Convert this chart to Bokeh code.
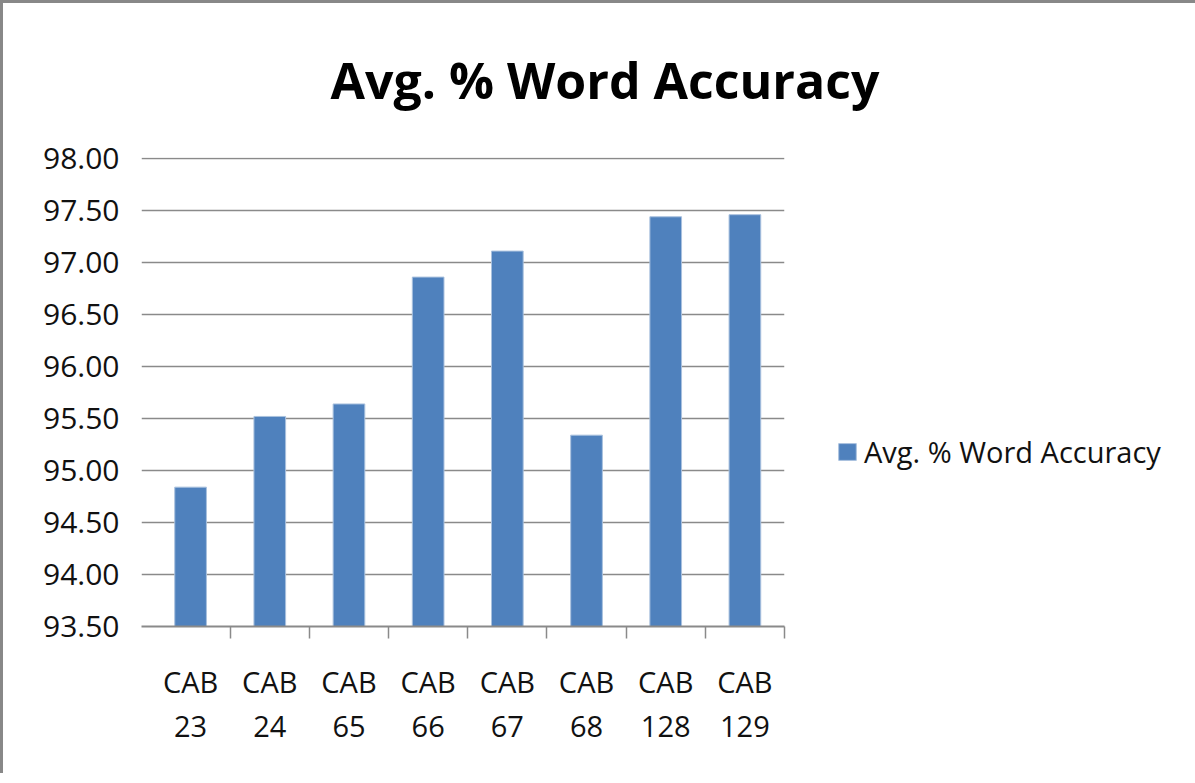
from bokeh.plotting import figure
from bokeh.models import (Range1d, FixedTicker, NumeralTickFormatter, Legend,
                          LegendItem, ColumnDataSource)
from bokeh.embed import file_html
from bokeh.resources import INLINE

# ---- data ----
categories = ["CAB\n23", "CAB\n24", "CAB\n65", "CAB\n66", "CAB\n67", "CAB\n68", "CAB\n128", "CAB\n129"]
accuracy = [94.84, 95.52, 95.64, 96.86, 97.11, 95.34, 97.44, 97.46]
y_ticks = [93.5, 94.0, 94.5, 95.0, 95.5, 96.0, 96.5, 97.0, 97.5, 98.0]
series_name = "Avg. % Word Accuracy"
title_text = "Avg. % Word Accuracy"

FONT = "Open Sans"
TXT = "#111111"
GRID = "#8a8a8a"
BAR = "#4F81BD"

xpos = [i + 0.5 for i in range(len(categories))]
bounds = [i + 1 for i in range(len(categories))]
src = ColumnDataSource(dict(x=xpos, top=accuracy))

p = figure(frame_width=643, frame_height=469, output_backend="svg", toolbar_location=None,
           x_range=Range1d(-0.12, len(categories)), y_range=Range1d(y_ticks[0], y_ticks[-1] + 0.01),
           min_border_left=138, min_border_right=400, min_border_top=154, min_border_bottom=147)
p.outline_line_color = None
p.styles = {"border-left": "3px solid #888888", "border-top": "3px solid #888888"}

r = p.vbar(x="x", top="top", bottom=y_ticks[0], width=0.4, source=src,
           fill_color=BAR, line_color="#a9c1de", line_width=1)

# title
p.title.text = title_text
p.title.align = "left"
p.title.offset = 189
p.title.standoff = 84
p.title.vertical_align = "top"
p.title.text_font = FONT
p.title.text_font_style = "bold"
p.title.text_font_size = "50px"
p.title.text_color = "#000000"

# x axis
xa = p.xaxis[0]
xa.ticker = FixedTicker(ticks=xpos, minor_ticks=bounds)
xa.major_label_overrides = {xp: c for xp, c in zip(xpos, categories)}
xa.major_tick_out = 0
xa.major_tick_in = 0
xa.minor_tick_out = 12
xa.minor_tick_in = 0
xa.minor_tick_line_color = GRID
xa.minor_tick_line_width = 1.5
xa.axis_line_color = GRID
xa.axis_line_width = 2
xa.major_label_standoff = 23
xa.major_label_text_font = FONT
xa.major_label_text_font_size = "29px"
xa.major_label_text_color = TXT
xa.major_label_text_line_height = 1.15
p.xgrid.visible = False

# y axis
ya = p.yaxis[0]
ya.ticker = FixedTicker(ticks=y_ticks)
ya.formatter = NumeralTickFormatter(format="0.00")
ya.axis_line_color = None
ya.major_tick_line_color = None
ya.minor_tick_line_color = None
ya.major_label_standoff = 16
ya.major_label_text_font = FONT
ya.major_label_text_font_size = "30px"
ya.major_label_text_color = TXT
p.ygrid.ticker = FixedTicker(ticks=y_ticks)
p.ygrid.grid_line_color = GRID
p.ygrid.grid_line_width = 1.5

# legend
legend = Legend(items=[LegendItem(label=series_name, renderers=[r])],
                location=(52, 155), glyph_width=22, glyph_height=21, label_standoff=6,
                padding=0, margin=0, border_line_color=None, background_fill_alpha=0,
                label_text_font=FONT, label_text_font_size="29px", label_text_color=TXT)
p.add_layout(legend, "right")

open("out.html", "w").write(file_html(p, INLINE))
